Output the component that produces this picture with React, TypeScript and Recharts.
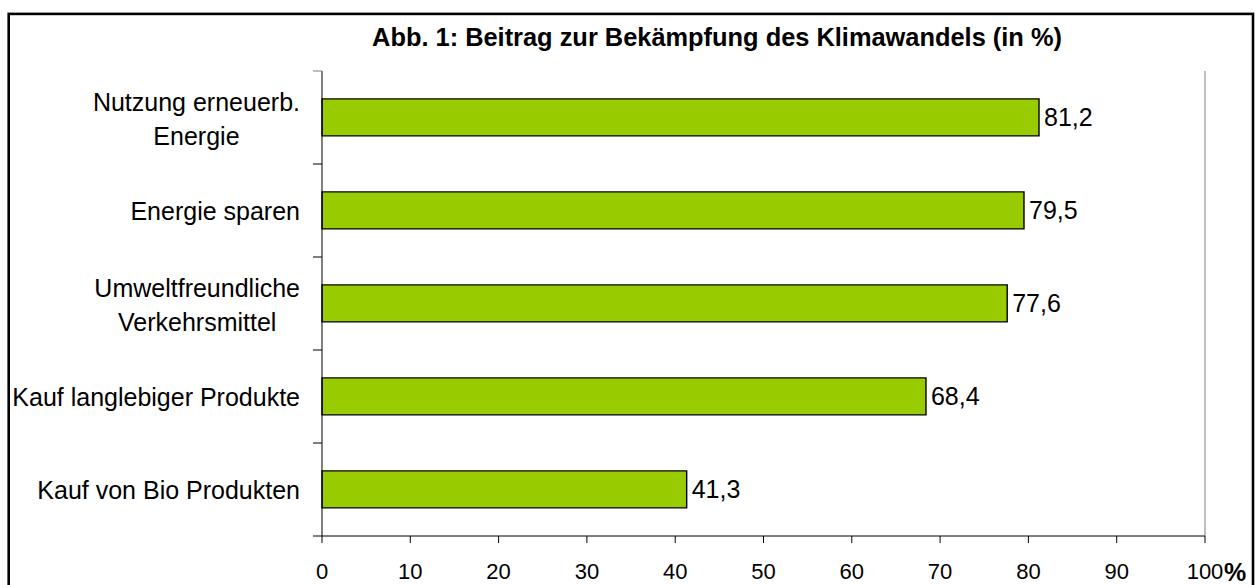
import { Bar, BarChart, LabelList, ReferenceLine, XAxis, YAxis } from "recharts";

// Abb. 1 — Beitrag zur Bekämpfung des Klimawandels (in %)

const categories = [
  "Nutzung erneuerb.\nEnergie",
  "Energie sparen",
  "Umweltfreundliche\nVerkehrsmittel",
  "Kauf langlebiger Produkte",
  "Kauf von Bio Produkten",
];
const values = [81.2, 79.5, 77.6, 68.4, 41.3];
const xTicks = [0, 10, 20, 30, 40, 50, 60, 70, 80, 90, 100];
const title = "Abb. 1: Beitrag zur Bekämpfung des Klimawandels (in %)";

const data = categories.map((name, i) => ({ name, value: values[i] }));

const WIDTH = 1255;
const HEIGHT = 585;
const MARGIN = { top: 71, right: 50, bottom: 0, left: 0 };
const Y_AXIS_W = 322;
const X_AXIS_H = 49;
const Y_TICK_SIZE = 9;
const Y_TICK_MARGIN = 13;
const BAND = (HEIGHT - MARGIN.top - MARGIN.bottom - X_AXIS_H) / categories.length;

const FONT = "Arial, 'Liberation Sans', sans-serif";
const LABEL_SIZE = 25;
const LINE_H = 34;

const ctx = typeof document !== "undefined" ? document.createElement("canvas").getContext("2d") : null;
const textWidth = (s: string) => {
  if (!ctx) return s.length * LABEL_SIZE * 0.5;
  ctx.font = `${LABEL_SIZE}px 'Liberation Sans', Arial, sans-serif`;
  return ctx.measureText(s).width;
};

const CategoryTick = (props: any) => {
  const { x, y, payload, index } = props;
  const lines = String(payload.value).split("\n");
  const axisX = x + Y_TICK_MARGIN + Y_TICK_SIZE;
  const widest = Math.max(...lines.map(textWidth));
  const cx = x - widest / 2;
  const firstY = y - ((lines.length - 1) * LINE_H) / 2 + (lines.length > 1 ? 1 : 0);
  return (
    <g>
      <line
        x1={axisX - Y_TICK_SIZE}
        x2={axisX}
        y1={y - BAND / 2}
        y2={y - BAND / 2}
        stroke={index === 0 ? "#808080" : "#000"}
      />
      {index === categories.length - 1 && (
        <line x1={axisX - Y_TICK_SIZE} x2={axisX} y1={y + BAND / 2} y2={y + BAND / 2} stroke="#000" />
      )}
      <text textAnchor="middle" fontSize={LABEL_SIZE} fontFamily={FONT} fill="#000" dominantBaseline="central">
        {lines.map((l, i) => (
          <tspan key={i} x={cx} y={firstY + i * LINE_H}>
            {l}
          </tspan>
        ))}
      </text>
    </g>
  );
};

const PercentTick = (props: any) => {
  const { x, y, payload } = props;
  return (
    <g>
      <text x={x} y={y} dy="0.71em" textAnchor="middle" fontSize={22} fontFamily={FONT} fill="#000">
        {payload.value}
      </text>
      {payload.value === 100 && (
        <text x={x + 19} y={y} dy="0.71em" fontSize={25} fontWeight="bold" fontFamily={FONT} fill="#000">
          %
        </text>
      )}
    </g>
  );
};

export default function App() {
  return (
    <div style={{ position: "absolute", left: 0, top: 0, width: WIDTH, height: HEIGHT, overflow: "hidden", background: "#fff" }}>
      <BarChart width={WIDTH} height={HEIGHT} data={data} layout="vertical" margin={MARGIN} barCategoryGap="30%">
        <XAxis
          type="number"
          domain={[0, 100]}
          ticks={xTicks}
          interval={0}
          height={X_AXIS_H}
          tickSize={7}
          tickMargin={20}
          axisLine={{ stroke: "#000" }}
          tickLine={{ stroke: "#000" }}
          tick={<PercentTick />}
        />
        <XAxis
          xAxisId="top"
          orientation="top"
          type="number"
          domain={[0, 100]}
          height={0}
          tick={false}
          tickLine={false}
          axisLine={{ stroke: "#808080" }}
        />
        <YAxis
          type="category"
          dataKey="name"
          width={Y_AXIS_W}
          tickSize={Y_TICK_SIZE}
          tickMargin={Y_TICK_MARGIN}
          tickLine={false}
          axisLine={{ stroke: "#000" }}
          interval={0}
          tick={<CategoryTick />}
        />
        <ReferenceLine x={100} stroke="#808080" />
        <Bar dataKey="value" fill="#99CC00" stroke="#000" strokeWidth={1.4} isAnimationActive={false}>
          <LabelList
            dataKey="value"
            position="right"
            offset={5}
            fontSize={25}
            fontFamily={FONT}
            fill="#000"
            formatter={(v: any) => Number(v).toFixed(1).replace(".", ",")}
          />
        </Bar>
      </BarChart>
      <svg width={WIDTH} height={HEIGHT} style={{ position: "absolute", left: 0, top: 0, pointerEvents: "none" }}>
        <rect x={8.7} y={13.9} width={1244.3} height={700} fill="none" stroke="#000" strokeWidth={2.6} />
        <text x={717} y={46} textAnchor="middle" fontSize={25.4} fontWeight="bold" fontFamily={FONT} fill="#000">
          {title}
        </text>
      </svg>
    </div>
  );
}
